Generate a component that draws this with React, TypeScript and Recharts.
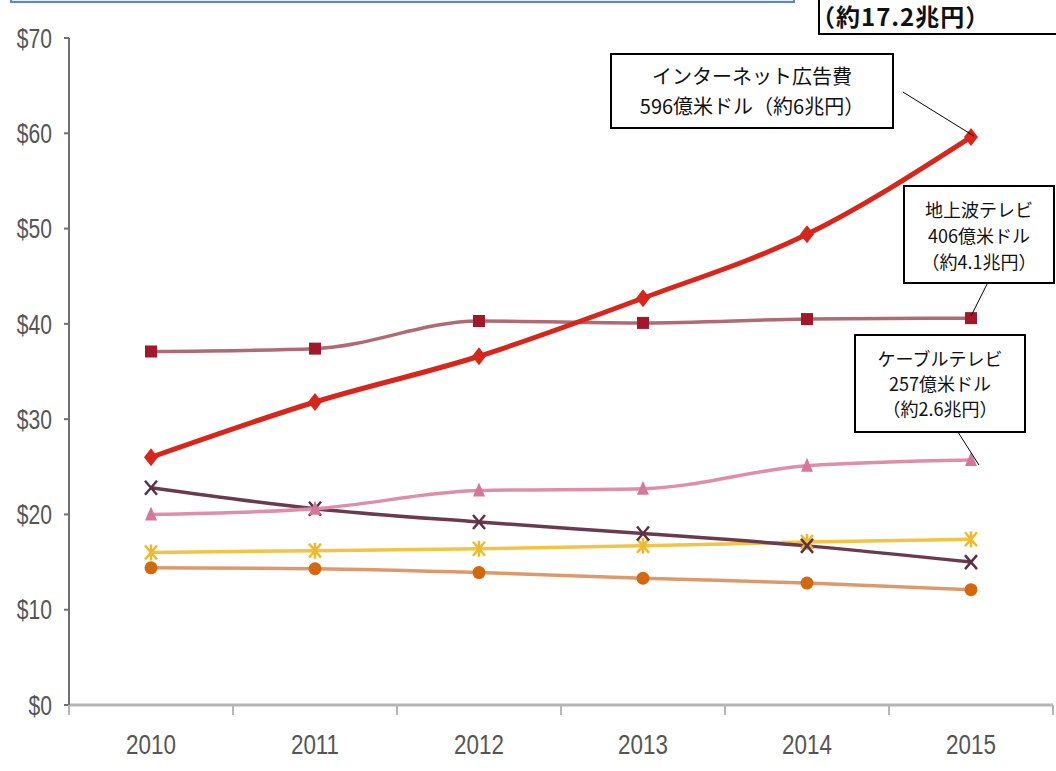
import { LineChart, Line, XAxis, YAxis, ReferenceDot } from "recharts"

const years = ["2010", "2011", "2012", "2013", "2014", "2015"]
const internet = [26.0, 31.8, 36.6, 42.7, 49.4, 59.6]
const terrestrialTv = [37.1, 37.4, 40.3, 40.1, 40.5, 40.6]
const cableTv = [20.0, 20.6, 22.5, 22.7, 25.1, 25.7]
const newspaper = [22.8, 20.6, 19.2, 18.0, 16.7, 15.0]
const magazine = [16.0, 16.2, 16.4, 16.7, 17.1, 17.4]
const radio = [14.4, 14.3, 13.9, 13.3, 12.8, 12.1]
const yTicks = [0, 10, 20, 30, 40, 50, 60, 70]

const data = years.map((year, i) => ({
  year,
  internet: internet[i],
  terrestrialTv: terrestrialTv[i],
  cableTv: cableTv[i],
  newspaper: newspaper[i],
  magazine: magazine[i],
  radio: radio[i],
}))

const W = 1056
const H = 771
const Y_AXIS_W = 69
const RIGHT = 3
const HALF_BAND = (W - Y_AXIS_W - RIGHT) / years.length / 2
const AXIS_FONT = "'Liberation Sans', Arial, sans-serif"
const JP_FONT = "'Noto Sans CJK JP', 'Noto Sans', sans-serif"

// axis labels in the reference are a condensed face, so squeeze them
function YearTick(props: any) {
  const { x, y, payload, index } = props
  return (
    <g>
      <line x1={x - HALF_BAND} y1={y} x2={x - HALF_BAND} y2={y + 10} stroke="#b5b5b5" strokeWidth={2} />
      {index === years.length - 1 && (
        <line x1={x + HALF_BAND} y1={y} x2={x + HALF_BAND} y2={y + 10} stroke="#b5b5b5" strokeWidth={2} />
      )}
      <text
        transform={`translate(${x},${y + 49}) scale(0.8,1)`}
        textAnchor="middle"
        fill="#555"
        fontSize={28}
        fontFamily={AXIS_FONT}
      >
        {payload.value}
      </text>
    </g>
  )
}

function DollarTick(props: any) {
  const { x, y, payload } = props
  return (
    <text
      transform={`translate(${x},${y}) scale(0.78,1)`}
      dy="0.36em"
      textAnchor="end"
      fill="#555"
      fontSize={27}
      fontFamily={AXIS_FONT}
    >
      {`$${payload.value}`}
    </text>
  )
}

const diamondDot = (p: any) => (
  <path
    key={p.index}
    d={`M${p.cx},${p.cy - 9} L${p.cx + 7},${p.cy} L${p.cx},${p.cy + 9} L${p.cx - 7},${p.cy} Z`}
    fill="#d7261c"
  />
)
const squareDot = (p: any) => (
  <rect key={p.index} x={p.cx - 6} y={p.cy - 6} width={12} height={12} fill="#a3172a" />
)
const triangleDot = (p: any) => (
  <path
    key={p.index}
    d={`M${p.cx},${p.cy - 8} L${p.cx + 6},${p.cy + 6} L${p.cx - 6},${p.cy + 6} Z`}
    fill="#d4789a"
  />
)
const crossDot = (p: any) => (
  <path
    key={p.index}
    d={`M${p.cx - 6},${p.cy - 7} L${p.cx + 6},${p.cy + 7} M${p.cx + 6},${p.cy - 7} L${p.cx - 6},${p.cy + 7}`}
    stroke="#5b2f45"
    strokeWidth={2.5}
  />
)
const starDot = (p: any) => (
  <path
    key={p.index}
    d={`M${p.cx - 6},${p.cy - 7} L${p.cx + 6},${p.cy + 7} M${p.cx + 6},${p.cy - 7} L${p.cx - 6},${p.cy + 7} M${p.cx},${p.cy - 8} L${p.cx},${p.cy + 8}`}
    stroke="#edb92e"
    strokeWidth={2.5}
  />
)
const circleDot = (p: any) => <circle key={p.index} cx={p.cx} cy={p.cy} r={6.5} fill="#d4680f" />

const leader = (dx1: number, dy1: number, dx2: number, dy2: number) => (p: any) => (
  <line x1={p.cx + dx1} y1={p.cy + dy1} x2={p.cx + dx2} y2={p.cy + dy2} stroke="#000" strokeWidth={1} />
)

const boxStyle = {
  position: "absolute" as const,
  boxSizing: "border-box" as const,
  background: "#fff",
  border: "2px solid #000",
  display: "flex",
  flexDirection: "column" as const,
  justifyContent: "center",
  alignItems: "center",
  fontFamily: JP_FONT,
  color: "#111",
  whiteSpace: "nowrap" as const,
}

export default function App() {
  return (
    <div style={{ position: "absolute", left: 0, top: 0, width: W, height: H, overflow: "hidden", background: "#fff" }}>
      <LineChart width={W} height={H} data={data} margin={{ top: 38, right: RIGHT, left: 0, bottom: 0 }}>
        <XAxis
          dataKey="year"
          height={H - 705}
          padding={{ left: HALF_BAND, right: HALF_BAND }}
          axisLine={{ stroke: "#b5b5b5", strokeWidth: 3 }}
          tickLine={false}
          tickSize={0}
          tickMargin={0}
          tick={<YearTick />}
          interval={0}
        />
        <YAxis
          width={Y_AXIS_W}
          domain={[0, 70]}
          ticks={yTicks}
          axisLine={{ stroke: "#707070", strokeWidth: 2 }}
          tickLine={{ stroke: "#707070", strokeWidth: 2 }}
          tickSize={5}
          tickMargin={12}
          tick={<DollarTick />}
        />
        <Line type="monotone" dataKey="radio" stroke="#dc9a6c" strokeWidth={3.5} dot={circleDot} isAnimationActive={false} />
        <Line type="monotone" dataKey="magazine" stroke="#f1c444" strokeWidth={3.5} dot={starDot} isAnimationActive={false} />
        <Line type="monotone" dataKey="newspaper" stroke="#6a3b4f" strokeWidth={3.5} dot={crossDot} isAnimationActive={false} />
        <Line type="monotone" dataKey="cableTv" stroke="#de8ea8" strokeWidth={3.5} dot={triangleDot} isAnimationActive={false} />
        <Line type="monotone" dataKey="terrestrialTv" stroke="#b06a72" strokeWidth={3.5} dot={squareDot} isAnimationActive={false} />
        <Line type="monotone" dataKey="internet" stroke="#d7261c" strokeWidth={5} dot={diamondDot} isAnimationActive={false} />
        <ReferenceDot x="2015" y={internet[5]} r={0} shape={leader(3, -1, -68, -45)} />
        <ReferenceDot x="2015" y={terrestrialTv[5]} r={0} shape={leader(0, -2, 16, -34)} />
        <ReferenceDot x="2015" y={cableTv[5]} r={0} shape={leader(8, 5, -13, -28)} />
      </LineChart>

      <div
        style={{
          position: "absolute",
          left: 10,
          top: -50,
          width: 785,
          height: 53,
          boxSizing: "border-box",
          background: "#e6edf9",
          border: "2px solid #5a87d4",
        }}
      />
      <div style={{ ...boxStyle, left: 818, top: -60, width: 260, height: 95 }} />
      <div
        style={{
          position: "absolute",
          left: 811,
          top: 4,
          lineHeight: "24px",
          fontSize: 24,
          letterSpacing: 1,
          fontWeight: 700,
          fontFamily: JP_FONT,
          color: "#111",
          whiteSpace: "nowrap",
        }}
      >
        （約17.2兆円）
      </div>

      <div style={{ ...boxStyle, left: 610, top: 53, width: 284, height: 76, fontSize: 20, lineHeight: "30px" }}>
        <div>インターネット広告費</div>
        <div>596億米ドル（約6兆円）</div>
      </div>
      <div style={{ ...boxStyle, left: 903, top: 185, width: 152, height: 99, fontSize: 18, lineHeight: "26px" }}>
        <div>地上波テレビ</div>
        <div>406億米ドル</div>
        <div>（約4.1兆円）</div>
      </div>
      <div style={{ ...boxStyle, left: 854, top: 334, width: 172, height: 99, fontSize: 18, lineHeight: "25px" }}>
        <div>ケーブルテレビ</div>
        <div>257億米ドル</div>
        <div>（約2.6兆円）</div>
      </div>
    </div>
  )
}
